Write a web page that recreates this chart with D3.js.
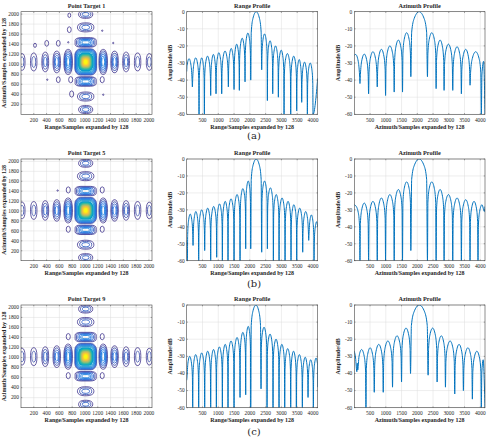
<!DOCTYPE html>
<html>
<head>
<meta charset="utf-8">
<script src="https://cdn.jsdelivr.net/npm/d3@7"></script>
<style>
body { margin: 0; background: #fff; }
svg { display: block; }
text { font-family: "Liberation Serif", "Times New Roman", serif; fill: #262626; }
</style>
</head>
<body>
<div id="chart"></div>
<script>
// ---- values ----
var captions = ["(a)", "(b)", "(c)"];
var targetTitles = ["Point Target 1", "Point Target 5", "Point Target 9"];
var imageTicks = [200, 400, 600, 800, 1000, 1200, 1400, 1600, 1800, 2000];
var sampleTicks = [500, 1000, 1500, 2000, 2500, 3000, 3500, 4000];
var dbTicks = [0, -10, -20, -30, -40, -50, -60];

// range profiles: null positions, null depths (dB), lobe peaks (dB), level at both ends
var rangeNullsA = [180, 391, 560, 760, 929, 1109, 1320, 1500, 1668, 1848, 2028, 2376, 2556, 2725, 2904, 3084, 3295, 3485, 3643, 3823];
var rangeDepthsA = [-44, -60, -60, -49, -48, -48, -44, -45.5, -46, -41, -40, -34, -52, -48, -50, -60, -60, -58, -53, -60];
var rangePeaksA = [-27.5, -27, -27, -26, -25, -24, -23, -21.5, -19, -15.5, -12.5, 0, -13, -17, -20, -22.5, -24.5, -26, -28, -29.5, -30];
var rangeEndsA = [-35, -39];

var rangeNullsB = [201, 380, 570, 760, 950, 1130, 1309, 1500, 1690, 1869, 2028, 2376, 2556, 2746, 2926, 3116, 3305, 3485, 3675, 3865, 4034];
var rangeDepthsB = [-51, -60, -54, -60, -58, -60, -60, -60, -60, -53, -53, -55, -53, -60, -60, -60, -60, -60, -55, -48, -60];
var rangePeaksB = [-32.5, -31, -30, -29, -28, -26.5, -25, -23.5, -21, -17.5, -13, 0, -13, -17, -21, -23, -25, -27, -29, -31, -33, -37];
var rangeEndsB = [-48, -40];

var rangeNullsC = [190, 380, 570, 760, 940, 1130, 1309, 1500, 1690, 1869, 2028, 2355, 2545, 2735, 2925, 3105, 3295, 3474, 3664, 3844, 4013];
var rangeDepthsC = [-60, -60, -60, -60, -60, -60, -60, -60, -54, -52.5, -60, -49, -60, -60, -60, -60, -60, -60, -60, -54, -60];
var rangePeaksC = [-30, -29, -28, -27, -26, -24.5, -23, -21, -19, -16, -12.5, 0, -13, -17, -20, -23, -25.5, -27, -29, -30.5, -32, -31];
var rangeEndsC = [-44, -48];

// azimuth profiles
var azNullsA = [180, 454, 729, 993, 1267, 1531, 1795, 2323, 2598, 2851, 3126, 3400, 3675, 4034];
var azDepthsA = [-42, -48, -44, -49, -47, -47, -38, -38, -45, -46, -46, -48, -43, -60];
var azPeaksA = [-25, -24.8, -23.4, -22, -20, -16.6, -12.3, 0, -12.3, -16.6, -19, -20.5, -22, -23.4, -25];
var azEndsA = [-25.5, -60];

var azNullsB = [180, 454, 729, 993, 1267, 1531, 1795, 2323, 2598, 2851, 3126, 3400, 3675, 3928];
var azDepthsB = [-60, -60, -60, -60, -60, -60, -54, -60, -60, -60, -60, -60, -60, -60];
var azPeaksB = [-27.5, -26, -25, -23, -21, -18, -13.5, 0, -13.5, -18, -21, -23, -24, -25, -27];
var azEndsB = [-27, -28];

var azNullsC = [95, 370, 634, 919, 1214, 1500, 1785, 2344, 2630, 2894, 3189, 3464, 3749, 4034];
var azDepthsC = [-34, -60, -51, -51, -48, -45, -40, -41, -45, -48, -52, -50, -55, -60];
var azPeaksC = [-27, -26, -25, -23, -21, -18, -13.5, 0, -13.5, -18, -21, -23, -25, -27, -28];
var azEndsC = [-27, -60];

// contour maps (samples): main lobe centre, side lobes along range / azimuth
var mainCentersX = [1011, 1011, 1011];
var mainCentersY = [1045, 1012, 1018];
var mainHalfSize = [170, 262];
var rangeLobeOffsets = [274, 452, 632, 812, 995];
var rangeLobeHalfW = [66, 58, 53, 50, 47];
var rangeLobeHalfH = [250, 215, 195, 178, 165];
var rangeLobeRings = [6, 4, 3, 2, 2];
var azLobeOffsets = [390, 690, 950];
var azLobeHalfW = [165, 128, 110];
var azLobeHalfH = [95, 90, 80];
var azLobeRings = [6, 3, 3];
// small cross lobes: x, y, half width, half height
var smallLobesA = [[755, 1976, 22, 45], [755, 1689, 30, 58], [1270, 1669, 10, 14], [219, 1377, 22, 42],
                   [402, 1417, 30, 58], [583, 1417, 30, 58], [739, 1437, 10, 14], [1442, 1423, 10, 14],
                   [411, 691, 10, 14], [583, 691, 30, 58], [777, 691, 32, 62], [1270, 691, 32, 62],
                   [792, 405, 32, 62], [1286, 391, 10, 14]];
var smallLobesB = [[739, 1425, 32, 62], [1270, 1425, 32, 62], [573, 1413, 10, 14], [739, 633, 32, 62], [1270, 633, 32, 62]];
var smallLobesC = [[739, 1417, 32, 62], [1270, 1417, 32, 62], [739, 639, 32, 62], [1270, 639, 32, 62]];

// ---- layout ----
var rows = [
  {top: 11.7, bottom: 114.3, cap: 138.5},
  {top: 159, bottom: 260.7, cap: 287.3},
  {top: 305, bottom: 407.7, cap: 435.2}
];
var cols = [{left: 21, width: 131}, {left: 186.7, width: 131}, {left: 354.3, width: 130.7}];

var rangeSets = [[rangeNullsA, rangeDepthsA, rangePeaksA, rangeEndsA],
                 [rangeNullsB, rangeDepthsB, rangePeaksB, rangeEndsB],
                 [rangeNullsC, rangeDepthsC, rangePeaksC, rangeEndsC]];
var azSets = [[azNullsA, azDepthsA, azPeaksA, azEndsA],
              [azNullsB, azDepthsB, azPeaksB, azEndsB],
              [azNullsC, azDepthsC, azPeaksC, azEndsC]];
var smallSets = [smallLobesA, smallLobesB, smallLobesC];

var parula = d3.scaleLinear()
  .domain(d3.range(9).map(function(i) { return i / 8; }))
  .range(['#352a87', '#0363e1', '#1485d4', '#06a7c6', '#38b99e', '#92bf73', '#d9ba56', '#fcce2e', '#f9fb0e']);

var svg = d3.select("#chart").append("svg")
  .attr("width", 487)
  .attr("height", 437);

var clipId = 0;

// axes frame, grid, ticks and labels in the MATLAB look
function drawFrame(g, x, y, xticks, yticks, w, h, title, xlabel, ylabel) {
  g.append("rect").attr("width", w).attr("height", h).attr("fill", "#fff");
  xticks.forEach(function(t) {
    g.append("line").attr("x1", x(t)).attr("x2", x(t)).attr("y1", 0).attr("y2", h)
      .attr("stroke", "#dcdcdc").attr("stroke-width", 0.5);
  });
  yticks.forEach(function(t) {
    g.append("line").attr("x1", 0).attr("x2", w).attr("y1", y(t)).attr("y2", y(t))
      .attr("stroke", "#dcdcdc").attr("stroke-width", 0.5);
  });
  var id = "clip" + (clipId++);
  g.append("clipPath").attr("id", id).append("rect").attr("width", w).attr("height", h);
  var content = g.append("g").attr("clip-path", "url(#" + id + ")");

  var axes = g.append("g");
  xticks.forEach(function(t) {
    axes.append("line").attr("x1", x(t)).attr("x2", x(t)).attr("y1", h).attr("y2", h - 1.3)
      .attr("stroke", "#333").attr("stroke-width", 0.4);
    axes.append("line").attr("x1", x(t)).attr("x2", x(t)).attr("y1", 0).attr("y2", 1.3)
      .attr("stroke", "#333").attr("stroke-width", 0.4);
    axes.append("text").attr("x", x(t)).attr("y", h + 7.6)
      .attr("text-anchor", "middle").attr("font-size", 5.4).text(t);
  });
  yticks.forEach(function(t) {
    axes.append("line").attr("x1", 0).attr("x2", 1.3).attr("y1", y(t)).attr("y2", y(t))
      .attr("stroke", "#333").attr("stroke-width", 0.4);
    axes.append("line").attr("x1", w).attr("x2", w - 1.3).attr("y1", y(t)).attr("y2", y(t))
      .attr("stroke", "#333").attr("stroke-width", 0.4);
    axes.append("text").attr("x", -2).attr("y", y(t) + 1.8)
      .attr("text-anchor", "end").attr("font-size", 5.4).text(t);
  });
  axes.append("rect").attr("width", w).attr("height", h)
    .attr("fill", "none").attr("stroke", "#444").attr("stroke-width", 0.6);
  axes.append("text").attr("x", w / 2).attr("y", -3.6)
    .attr("text-anchor", "middle").attr("font-size", 6.2).attr("font-weight", "bold").text(title);
  axes.append("text").attr("x", w / 2).attr("y", h + 14.6)
    .attr("text-anchor", "middle").attr("font-size", 6).attr("font-weight", "bold").text(xlabel);
  axes.append("text").attr("transform", "translate(-14.8," + (h / 2) + ") rotate(-90)")
    .attr("text-anchor", "middle").attr("font-size", 6).attr("font-weight", "bold").text(ylabel);
  return content;
}

// one side lobe: template vertices between two nulls
function lobePoints(a, b, da, db, p) {
  var w = b - a;
  return [[a, da], [a + 0.05 * w, p - 12], [a + 0.2 * w, p - 4], [a + 0.5 * w, p],
          [b - 0.2 * w, p - 4], [b - 0.05 * w, p - 12], [b, db]];
}

function profilePoints(set, xmax) {
  var nulls = set[0], depths = set[1], peaks = set[2], ends = set[3];
  var n = nulls.length;
  var pts = [[0, ends[0]]];
  var w0 = nulls[1] - nulls[0];
  pts = pts.concat(lobePoints(nulls[0] - w0, nulls[0], -60, depths[0], peaks[0])
    .filter(function(p) { return p[0] > 0; }));
  for (var i = 0; i < n - 1; i++) {
    pts = pts.concat(lobePoints(nulls[i], nulls[i + 1], depths[i], depths[i + 1], peaks[i + 1]).slice(1));
  }
  var wl = nulls[n - 1] - nulls[n - 2];
  pts = pts.concat(lobePoints(nulls[n - 1], nulls[n - 1] + wl, depths[n - 1], -60, peaks[n]).slice(1)
    .filter(function(p) { return p[0] < xmax; }));
  pts.push([xmax, ends[1]]);
  return pts;
}

function drawProfile(row, col, set, title, xlabel) {
  var r = rows[row], c = cols[col];
  var w = c.width, h = r.bottom - r.top;
  var x = d3.scaleLinear().domain([0, 4150]).range([0, w]);
  var y = d3.scaleLinear().domain([-60, 0]).range([h, 0]);
  var g = svg.append("g").attr("transform", "translate(" + c.left + "," + r.top + ")");
  var content = drawFrame(g, x, y, sampleTicks, dbTicks, w, h, title, xlabel, "Amplitude/dB");
  var line = d3.line()
    .x(function(d) { return x(d[0]); })
    .y(function(d) { return y(d[1]); })
    .curve(d3.curveMonotoneX);
  content.append("path")
    .attr("d", line(profilePoints(set, 4150)))
    .attr("fill", "none")
    .attr("stroke", "#0072bd")
    .attr("stroke-width", 1)
    .attr("stroke-linejoin", "round");
}

function ring(g, cx, cy, hw, hh, round, color, filled, sw) {
  g.append("rect")
    .attr("x", cx - hw).attr("y", cy - hh)
    .attr("width", 2 * hw).attr("height", 2 * hh)
    .attr("rx", hw * round).attr("ry", hh * round)
    .attr("fill", filled ? color : "none")
    .attr("stroke", filled ? "none" : color)
    .attr("stroke-width", sw);
}

function sideLobe(g, x, y, cx, cy, hw, hh, rings, round) {
  var px = x(cx), py = y(cy);
  var pw = x(hw) - x(0), ph = y(0) - y(hh);
  for (var k = 0; k < rings; k++) {
    var s = 1 - 0.8 * k / Math.max(rings, 1);
    ring(g, px, py, pw * s, ph * s, round, parula(0.04 * k), false, 0.75);
  }
}

function drawContour(row) {
  var r = rows[row], c = cols[0];
  var w = c.width, h = r.bottom - r.top;
  var x = d3.scaleLinear().domain([0, 2048]).range([0, w]);
  var y = d3.scaleLinear().domain([0, 2048]).range([h, 0]);
  var g = svg.append("g").attr("transform", "translate(" + c.left + "," + r.top + ")");
  var content = drawFrame(g, x, y, imageTicks, imageTicks, w, h, targetTitles[row],
    "Range/Samples expanded by 128", "Azimuth/Samples expanded by 128");
  var cx = mainCentersX[row], cy = mainCentersY[row];

  rangeLobeOffsets.forEach(function(off, i) {
    [-1, 1].forEach(function(sgn) {
      sideLobe(content, x, y, cx + sgn * off, cy, rangeLobeHalfW[i], rangeLobeHalfH[i], rangeLobeRings[i], 0.85);
    });
  });
  azLobeOffsets.forEach(function(off, i) {
    [-1, 1].forEach(function(sgn) {
      sideLobe(content, x, y, cx, cy + sgn * off, azLobeHalfW[i], azLobeHalfH[i], azLobeRings[i], i === 0 ? 0.55 : 0.85);
    });
  });
  smallSets[row].forEach(function(d) {
    sideLobe(content, x, y, d[0], d[1], d[2], d[3], 1, 1);
  });

  // main lobe: dense outer contours then filled inner levels
  var px = x(cx), py = y(cy);
  var pw = x(mainHalfSize[0]) - x(0), ph = y(0) - y(mainHalfSize[1]);
  var k, s;
  for (k = 0; k < 10; k++) {
    s = 1 - 0.032 * k;
    ring(content, px, py, pw * s, ph * s, 0.5, parula(0.02 + 0.035 * k), false, 0.6);
  }
  for (k = 0; k < 13; k++) {
    s = 0.7 - 0.045 * k;
    ring(content, px, py, pw * s, ph * s, 0.6 + 0.03 * k, parula(0.32 + 0.056 * k), true, 0);
  }
}

for (var i = 0; i < 3; i++) {
  drawContour(i);
  drawProfile(i, 1, rangeSets[i], "Range Profile", "Range/Samples expanded by 128");
  drawProfile(i, 2, azSets[i], "Azimuth Profile", "Azimuth/Samples expanded by 128");
  svg.append("text")
    .attr("x", 254).attr("y", rows[i].cap)
    .attr("text-anchor", "middle")
    .attr("font-size", 10)
    .style("font-family", "'DejaVu Serif', serif")
    .style("font-weight", "300")
    .text(captions[i]);
}
</script>
</body>
</html>
